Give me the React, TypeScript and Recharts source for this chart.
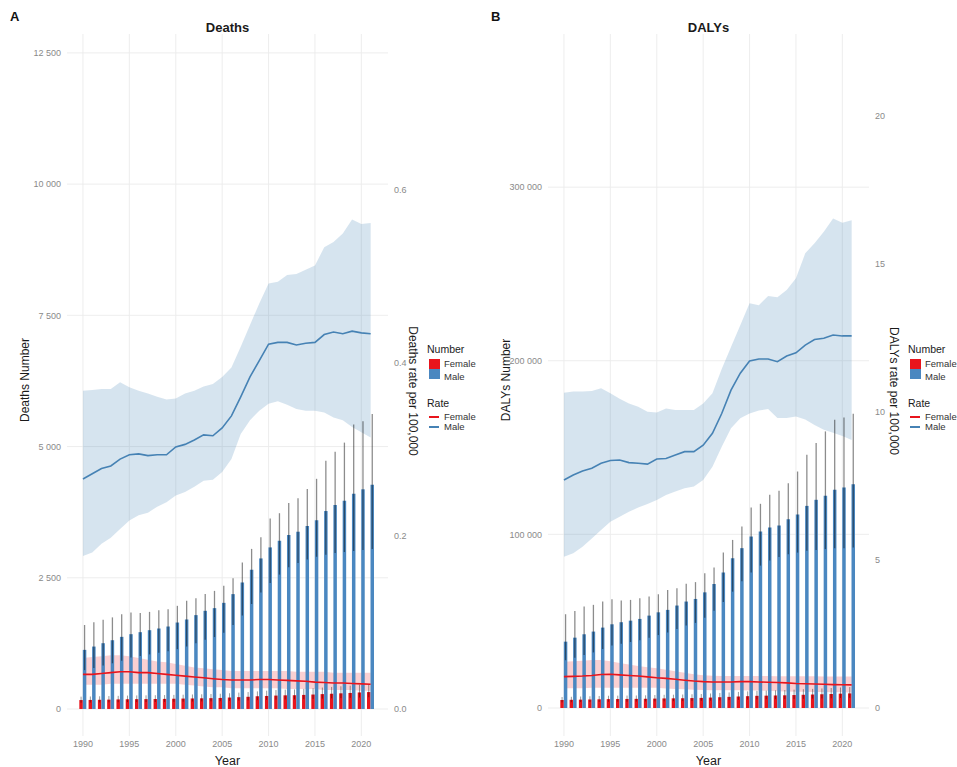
import React from "react";
import { ComposedChart, Bar, Line, Area, XAxis, YAxis, CartesianGrid, ErrorBar } from "recharts";

const YEARS = [
  1990, 1991, 1992, 1993, 1994, 1995, 1996, 1997, 1998, 1999, 2000, 2001, 2002, 2003, 2004, 2005,
  2006, 2007, 2008, 2009, 2010, 2011, 2012, 2013, 2014, 2015, 2016, 2017, 2018, 2019, 2020, 2021,
];
const YEAR_TICKS = [1990, 1995, 2000, 2005, 2010, 2015, 2020];

// Deaths, numbers
const DEATHS_MALE = [1126, 1189, 1253, 1310, 1374, 1425, 1463, 1501, 1533, 1571, 1647, 1705, 1788, 1870, 1921, 2022, 2188, 2410, 2652, 2868, 3078, 3205, 3314, 3377, 3486, 3594, 3771, 3886, 3969, 4102, 4185, 4274];
const DEATHS_MALE_HI = [1600, 1650, 1700, 1745, 1805, 1840, 1830, 1850, 1880, 1900, 1965, 2060, 2110, 2190, 2250, 2350, 2490, 2790, 3050, 3270, 3630, 3730, 3925, 4015, 4190, 4385, 4730, 4900, 5075, 5420, 5480, 5620];
const DEATHS_MALE_LO = [740, 780, 830, 870, 920, 980, 1010, 1040, 1070, 1100, 1140, 1190, 1250, 1320, 1370, 1450, 1600, 1780, 2000, 2220, 2400, 2560, 2700, 2780, 2850, 2900, 2940, 2970, 2990, 3010, 3030, 3050];
const DEATHS_FEMALE = [170, 172, 175, 178, 182, 185, 187, 188, 190, 192, 195, 198, 200, 203, 206, 210, 218, 225, 232, 240, 248, 255, 260, 262, 268, 275, 283, 290, 298, 305, 315, 322];
const DEATHS_FEMALE_HI = [235, 238, 242, 246, 250, 255, 258, 260, 262, 265, 268, 272, 276, 280, 285, 290, 300, 312, 322, 335, 348, 360, 368, 372, 382, 395, 408, 420, 432, 445, 462, 475];
const DEATHS_FEMALE_LO = [120, 122, 124, 126, 128, 130, 131, 132, 133, 135, 137, 139, 141, 143, 145, 148, 153, 158, 163, 168, 173, 178, 181, 183, 187, 192, 197, 202, 207, 212, 218, 223];

// Deaths, rates per 100,000
const DEATHS_RATE_MALE = [0.266, 0.272, 0.278, 0.281, 0.289, 0.294, 0.295, 0.293, 0.294, 0.294, 0.303, 0.306, 0.311, 0.317, 0.316, 0.325, 0.339, 0.361, 0.384, 0.403, 0.422, 0.424, 0.424, 0.421, 0.423, 0.424, 0.433, 0.436, 0.434, 0.437, 0.435, 0.434];
const DEATHS_RATE_MALE_HI = [0.368, 0.369, 0.37, 0.37, 0.378, 0.372, 0.368, 0.365, 0.361, 0.358, 0.359, 0.365, 0.368, 0.373, 0.376, 0.384, 0.395, 0.419, 0.444, 0.469, 0.492, 0.494, 0.502, 0.503, 0.508, 0.513, 0.534, 0.54, 0.55, 0.566, 0.561, 0.562];
const DEATHS_RATE_MALE_LO = [0.177, 0.181, 0.191, 0.198, 0.208, 0.218, 0.224, 0.227, 0.234, 0.239, 0.247, 0.251, 0.257, 0.264, 0.265, 0.274, 0.289, 0.318, 0.334, 0.345, 0.353, 0.356, 0.352, 0.347, 0.345, 0.345, 0.343, 0.337, 0.334, 0.326, 0.32, 0.314];
const DEATHS_RATE_FEMALE = [0.04, 0.04, 0.041, 0.042, 0.043, 0.043, 0.042, 0.042, 0.041, 0.04, 0.039, 0.038, 0.037, 0.036, 0.035, 0.034, 0.0335, 0.0335, 0.0335, 0.034, 0.034, 0.0335, 0.033, 0.0325, 0.032, 0.031, 0.0305, 0.03, 0.03, 0.0295, 0.029, 0.0285];
const DEATHS_RATE_FEMALE_HI = [0.059, 0.06, 0.061, 0.062, 0.062, 0.061, 0.059, 0.057, 0.055, 0.054, 0.052, 0.05, 0.048, 0.047, 0.046, 0.045, 0.044, 0.044, 0.044, 0.044, 0.044, 0.044, 0.044, 0.043, 0.043, 0.043, 0.043, 0.042, 0.042, 0.042, 0.042, 0.042];
const DEATHS_RATE_FEMALE_LO = [0.028, 0.028, 0.028, 0.029, 0.029, 0.029, 0.029, 0.029, 0.029, 0.029, 0.029, 0.028, 0.027, 0.026, 0.025, 0.025, 0.024, 0.024, 0.024, 0.024, 0.024, 0.024, 0.023, 0.023, 0.023, 0.023, 0.022, 0.022, 0.022, 0.022, 0.021, 0.021];

// DALYs, numbers
const DALYS_MALE = [38200, 40500, 42450, 44000, 46300, 48200, 49400, 50300, 51300, 53200, 55100, 56500, 59000, 61300, 62800, 66600, 71400, 78000, 86300, 92050, 98750, 101600, 103900, 105100, 108750, 111400, 116400, 119900, 122200, 125650, 127000, 128900];
const DALYS_MALE_HI = [54000, 55900, 58400, 59400, 61300, 62650, 61850, 62250, 63200, 64150, 65500, 68000, 69000, 71500, 72500, 77600, 80900, 89500, 96800, 104500, 115500, 117600, 122800, 125100, 129500, 136200, 145800, 152600, 159300, 166000, 167300, 169500];
const DALYS_MALE_LO = [27500, 29000, 30500, 32000, 34000, 36000, 37000, 38000, 39000, 40500, 42000, 43500, 45500, 47500, 49000, 52000, 56000, 61000, 67000, 73000, 78000, 82000, 85000, 87000, 88500, 89500, 90500, 91000, 91500, 92000, 92000, 92500];
const DALYS_FEMALE = [4600, 4700, 4800, 4900, 5000, 5100, 5150, 5200, 5250, 5300, 5400, 5500, 5550, 5600, 5700, 5800, 6000, 6200, 6400, 6600, 6800, 7000, 7100, 7200, 7300, 7450, 7600, 7750, 7900, 8050, 8250, 8400];
const DALYS_FEMALE_HI = [6300, 6450, 6600, 6750, 6900, 7050, 7100, 7150, 7200, 7300, 7450, 7600, 7650, 7750, 7900, 8050, 8350, 8650, 8950, 9250, 9550, 9850, 10000, 10150, 10300, 10550, 10800, 11000, 11250, 11500, 11800, 12050];
const DALYS_FEMALE_LO = [3250, 3300, 3400, 3450, 3500, 3600, 3650, 3650, 3700, 3750, 3800, 3850, 3900, 3950, 4000, 4100, 4200, 4350, 4500, 4650, 4800, 4900, 5000, 5050, 5100, 5200, 5300, 5400, 5500, 5600, 5750, 5850];

// DALYs, rates per 100,000
const DALYS_RATE_MALE = [7.7, 7.87, 8.01, 8.1, 8.27, 8.36, 8.38, 8.29, 8.27, 8.24, 8.41, 8.43, 8.55, 8.66, 8.66, 8.88, 9.28, 9.95, 10.74, 11.31, 11.72, 11.79, 11.79, 11.7, 11.89, 12.0, 12.26, 12.45, 12.49, 12.6, 12.57, 12.57];
const DALYS_RATE_MALE_HI = [10.65, 10.69, 10.69, 10.71, 10.8, 10.63, 10.45, 10.29, 10.18, 10.01, 9.98, 10.12, 10.07, 10.07, 10.07, 10.29, 10.63, 11.45, 12.2, 12.93, 13.67, 13.61, 13.92, 13.88, 14.12, 14.52, 15.36, 15.7, 16.09, 16.54, 16.39, 16.48];
const DALYS_RATE_MALE_LO = [5.11, 5.23, 5.45, 5.73, 6.01, 6.29, 6.46, 6.63, 6.77, 6.89, 7.03, 7.2, 7.31, 7.42, 7.48, 7.7, 8.15, 8.83, 9.45, 9.79, 9.95, 10.05, 10.1, 9.8, 9.8, 9.85, 9.75, 9.56, 9.4, 9.3, 9.19, 9.05];
const DALYS_RATE_FEMALE = [1.06, 1.07, 1.08, 1.1, 1.13, 1.14, 1.12, 1.1, 1.08, 1.05, 1.02, 1.0, 0.97, 0.94, 0.91, 0.89, 0.88, 0.88, 0.88, 0.89, 0.89, 0.88, 0.87, 0.86, 0.85, 0.83, 0.82, 0.81, 0.8, 0.79, 0.785, 0.78];
const DALYS_RATE_FEMALE_HI = [1.56, 1.58, 1.6, 1.62, 1.62, 1.58, 1.52, 1.47, 1.42, 1.38, 1.34, 1.29, 1.24, 1.19, 1.14, 1.11, 1.09, 1.08, 1.08, 1.08, 1.08, 1.08, 1.08, 1.07, 1.07, 1.07, 1.07, 1.07, 1.06, 1.06, 1.06, 1.06];
const DALYS_RATE_FEMALE_LO = [0.67, 0.67, 0.67, 0.68, 0.68, 0.68, 0.68, 0.68, 0.68, 0.68, 0.68, 0.66, 0.64, 0.63, 0.62, 0.61, 0.6, 0.6, 0.6, 0.6, 0.59, 0.59, 0.58, 0.57, 0.56, 0.55, 0.55, 0.54, 0.54, 0.53, 0.53, 0.52];

const DEATHS_TICKS = [0, 2500, 5000, 7500, 10000, 12500];
const DEATHS_RATE_TICKS = [0, 0.2, 0.4, 0.6];
const DALYS_TICKS = [0, 100000, 200000, 300000];
const DALYS_RATE_TICKS = [0, 5, 10, 15, 20];

const RED = "#E8141C";
const BLUE = "#4682B4";
const BAR_BLUE = "#4A87C0";
const FONT = "'Liberation Sans', Arial, sans-serif";

const spaced = (v: number) => String(v).replace(/\B(?=(\d{3})+(?!\d))/g, " ");

function buildRows(
  male: number[], maleLo: number[], maleHi: number[],
  female: number[], femaleLo: number[], femaleHi: number[],
  rateM: number[], rateMLo: number[], rateMHi: number[],
  rateF: number[], rateFLo: number[], rateFHi: number[],
) {
  return YEARS.map((year, i) => ({
    year,
    male: male[i],
    maleErr: [male[i] - maleLo[i], maleHi[i] - male[i]],
    female: female[i],
    femaleErr: [female[i] - femaleLo[i], femaleHi[i] - female[i]],
    rateMale: rateM[i],
    bandMale: [rateMLo[i], rateMHi[i]],
    rateFemale: rateF[i],
    bandFemale: [rateFLo[i], rateFHi[i]],
  }));
}

const deathsRows = buildRows(
  DEATHS_MALE, DEATHS_MALE_LO, DEATHS_MALE_HI,
  DEATHS_FEMALE, DEATHS_FEMALE_LO, DEATHS_FEMALE_HI,
  DEATHS_RATE_MALE, DEATHS_RATE_MALE_LO, DEATHS_RATE_MALE_HI,
  DEATHS_RATE_FEMALE, DEATHS_RATE_FEMALE_LO, DEATHS_RATE_FEMALE_HI,
);
const dalysRows = buildRows(
  DALYS_MALE, DALYS_MALE_LO, DALYS_MALE_HI,
  DALYS_FEMALE, DALYS_FEMALE_LO, DALYS_FEMALE_HI,
  DALYS_RATE_MALE, DALYS_RATE_MALE_LO, DALYS_RATE_MALE_HI,
  DALYS_RATE_FEMALE, DALYS_RATE_FEMALE_LO, DALYS_RATE_FEMALE_HI,
);

// rotated axis title, placed from the axis box recharts hands to the label
function AxisTitle(props: any) {
  const { viewBox, text, rot, shift } = props;
  if (!viewBox) return null;
  const x = viewBox.x + 25;
  const y = viewBox.y + viewBox.height / 2 + (shift || 0);
  return (
    <text x={x} y={y} transform={`rotate(${rot} ${x} ${y})`} textAnchor="middle"
      dominantBaseline="central" fontSize={12} fill="#1a1a1a" fontFamily={FONT}>
      {text}
    </text>
  );
}

const tickStyle = { fontSize: 9, fill: "#8a8a8a", fontFamily: FONT };

function Legend() {
  const label = { position: "absolute" as const, left: 17, fontSize: 9.5, color: "#333", lineHeight: "10px" };
  return (
    <div style={{ position: "absolute", left: 427, top: 343, width: 60, height: 95, fontFamily: FONT }}>
      <div style={{ position: "absolute", left: 0, top: 0, fontSize: 10.5, color: "#1a1a1a" }}>Number</div>
      <div style={{ position: "absolute", left: 2, top: 16, width: 11, height: 10, background: RED }} />
      <div style={{ position: "absolute", left: 2, top: 26, width: 11, height: 10, background: BAR_BLUE }} />
      <div style={{ ...label, top: 16 }}>Female</div>
      <div style={{ ...label, top: 29 }}>Male</div>
      <div style={{ position: "absolute", left: 0, top: 54, fontSize: 10.5, color: "#1a1a1a" }}>Rate</div>
      <div style={{ position: "absolute", left: 2, top: 73, width: 10, height: 1.5, background: RED }} />
      <div style={{ position: "absolute", left: 2, top: 83, width: 10, height: 1.5, background: BLUE }} />
      <div style={{ ...label, top: 69 }}>Female</div>
      <div style={{ ...label, top: 79 }}>Male</div>
    </div>
  );
}

type PanelProps = {
  left: number;
  letter: string;
  title: string;
  rows: any[];
  leftTitle: string;
  rightTitle: string;
  leftDomain: [number, number];
  leftTicks: number[];
  rightDomain: [number, number];
  rightTicks: number[];
  rightFormat: (v: number) => string;
};

function Panel(p: PanelProps) {
  return (
    <div style={{ position: "absolute", left: p.left, top: 0, width: 478, height: 767 }}>
      <div style={{ position: "absolute", left: 10, top: 10, fontSize: 13, fontWeight: 700, fontFamily: FONT, color: "#111", lineHeight: "14px" }}>
        {p.letter}
      </div>
      <div style={{ position: "absolute", left: 67, top: 20, width: 321, textAlign: "center", fontSize: 13, fontWeight: 700, fontFamily: FONT, color: "#1a1a1a", lineHeight: "16px" }}>
        {p.title}
      </div>
      <ComposedChart width={478} height={767} data={p.rows} margin={{ top: 34, right: 0, bottom: 0, left: 0 }} barGap={0}>
        <CartesianGrid yAxisId="left" stroke="#ebebeb" strokeWidth={0.9} syncWithTicks />
        <XAxis
          dataKey="year" type="number" domain={[1988.28, 2022.87]} allowDataOverflow
          ticks={YEAR_TICKS} height={31} axisLine={false} tickLine={false} tickSize={4} tickMargin={1}
          tick={tickStyle}
          label={{ value: "Year", position: "insideBottom", offset: 2, fontSize: 12.5, fill: "#1a1a1a", fontFamily: FONT }}
        />
        <YAxis
          yAxisId="left" orientation="left" width={67} domain={p.leftDomain} allowDataOverflow
          ticks={p.leftTicks} tickFormatter={spaced} axisLine={false} tickLine={false}
          tickSize={4} tickMargin={2} tick={tickStyle}
          label={<AxisTitle text={p.leftTitle} rot={-90} shift={-5} />}
        />
        <YAxis
          yAxisId="right" orientation="right" width={90} domain={p.rightDomain} allowDataOverflow
          ticks={p.rightTicks} tickFormatter={p.rightFormat} axisLine={false} tickLine={false}
          tickSize={4} tickMargin={2} tick={tickStyle}
          label={<AxisTitle text={p.rightTitle} rot={90} shift={6} />}
        />
        <Bar yAxisId="left" dataKey="female" fill={RED} barSize={3.5} isAnimationActive={false}>
          <ErrorBar dataKey="femaleErr" width={0} stroke="#000" strokeOpacity={0.4} strokeWidth={1} isAnimationActive={false} />
        </Bar>
        <Bar yAxisId="left" dataKey="male" fill={BAR_BLUE} barSize={3.5} isAnimationActive={false}>
          <ErrorBar dataKey="maleErr" width={0} stroke="#000" strokeOpacity={0.45} strokeWidth={1.3} isAnimationActive={false} />
        </Bar>
        <Area yAxisId="right" dataKey="bandMale" type="linear" stroke="none" fill={BLUE} fillOpacity={0.22} isAnimationActive={false} activeDot={false} />
        <Area yAxisId="right" dataKey="bandFemale" type="linear" stroke="none" fill={RED} fillOpacity={0.2} isAnimationActive={false} activeDot={false} />
        <Line yAxisId="right" dataKey="rateMale" type="linear" stroke={BLUE} strokeWidth={1.6} dot={false} isAnimationActive={false} />
        <Line yAxisId="right" dataKey="rateFemale" type="linear" stroke={RED} strokeWidth={1.6} dot={false} isAnimationActive={false} />
      </ComposedChart>
      <Legend />
    </div>
  );
}

export default function App() {
  return (
    <div style={{ position: "absolute", left: 0, top: 0, width: 957, height: 767, overflow: "hidden", background: "#fff" }}>
      <Panel
        left={0} letter="A" title="Deaths" rows={deathsRows}
        leftTitle="Deaths Number" rightTitle="Deaths rate per 100,000"
        leftDomain={[-515, 12860]} leftTicks={DEATHS_TICKS}
        rightDomain={[-0.0313, 0.7807]} rightTicks={DEATHS_RATE_TICKS}
        rightFormat={(v) => v.toFixed(1)}
      />
      <Panel
        left={481} letter="B" title="DALYs" rows={dalysRows}
        leftTitle="DALYs Number" rightTitle="DALYs rate per 100,000"
        leftDomain={[-16140, 388200]} leftTicks={DALYS_TICKS}
        rightDomain={[-0.946, 22.77]} rightTicks={DALYS_RATE_TICKS}
        rightFormat={(v) => String(v)}
      />
    </div>
  );
}
